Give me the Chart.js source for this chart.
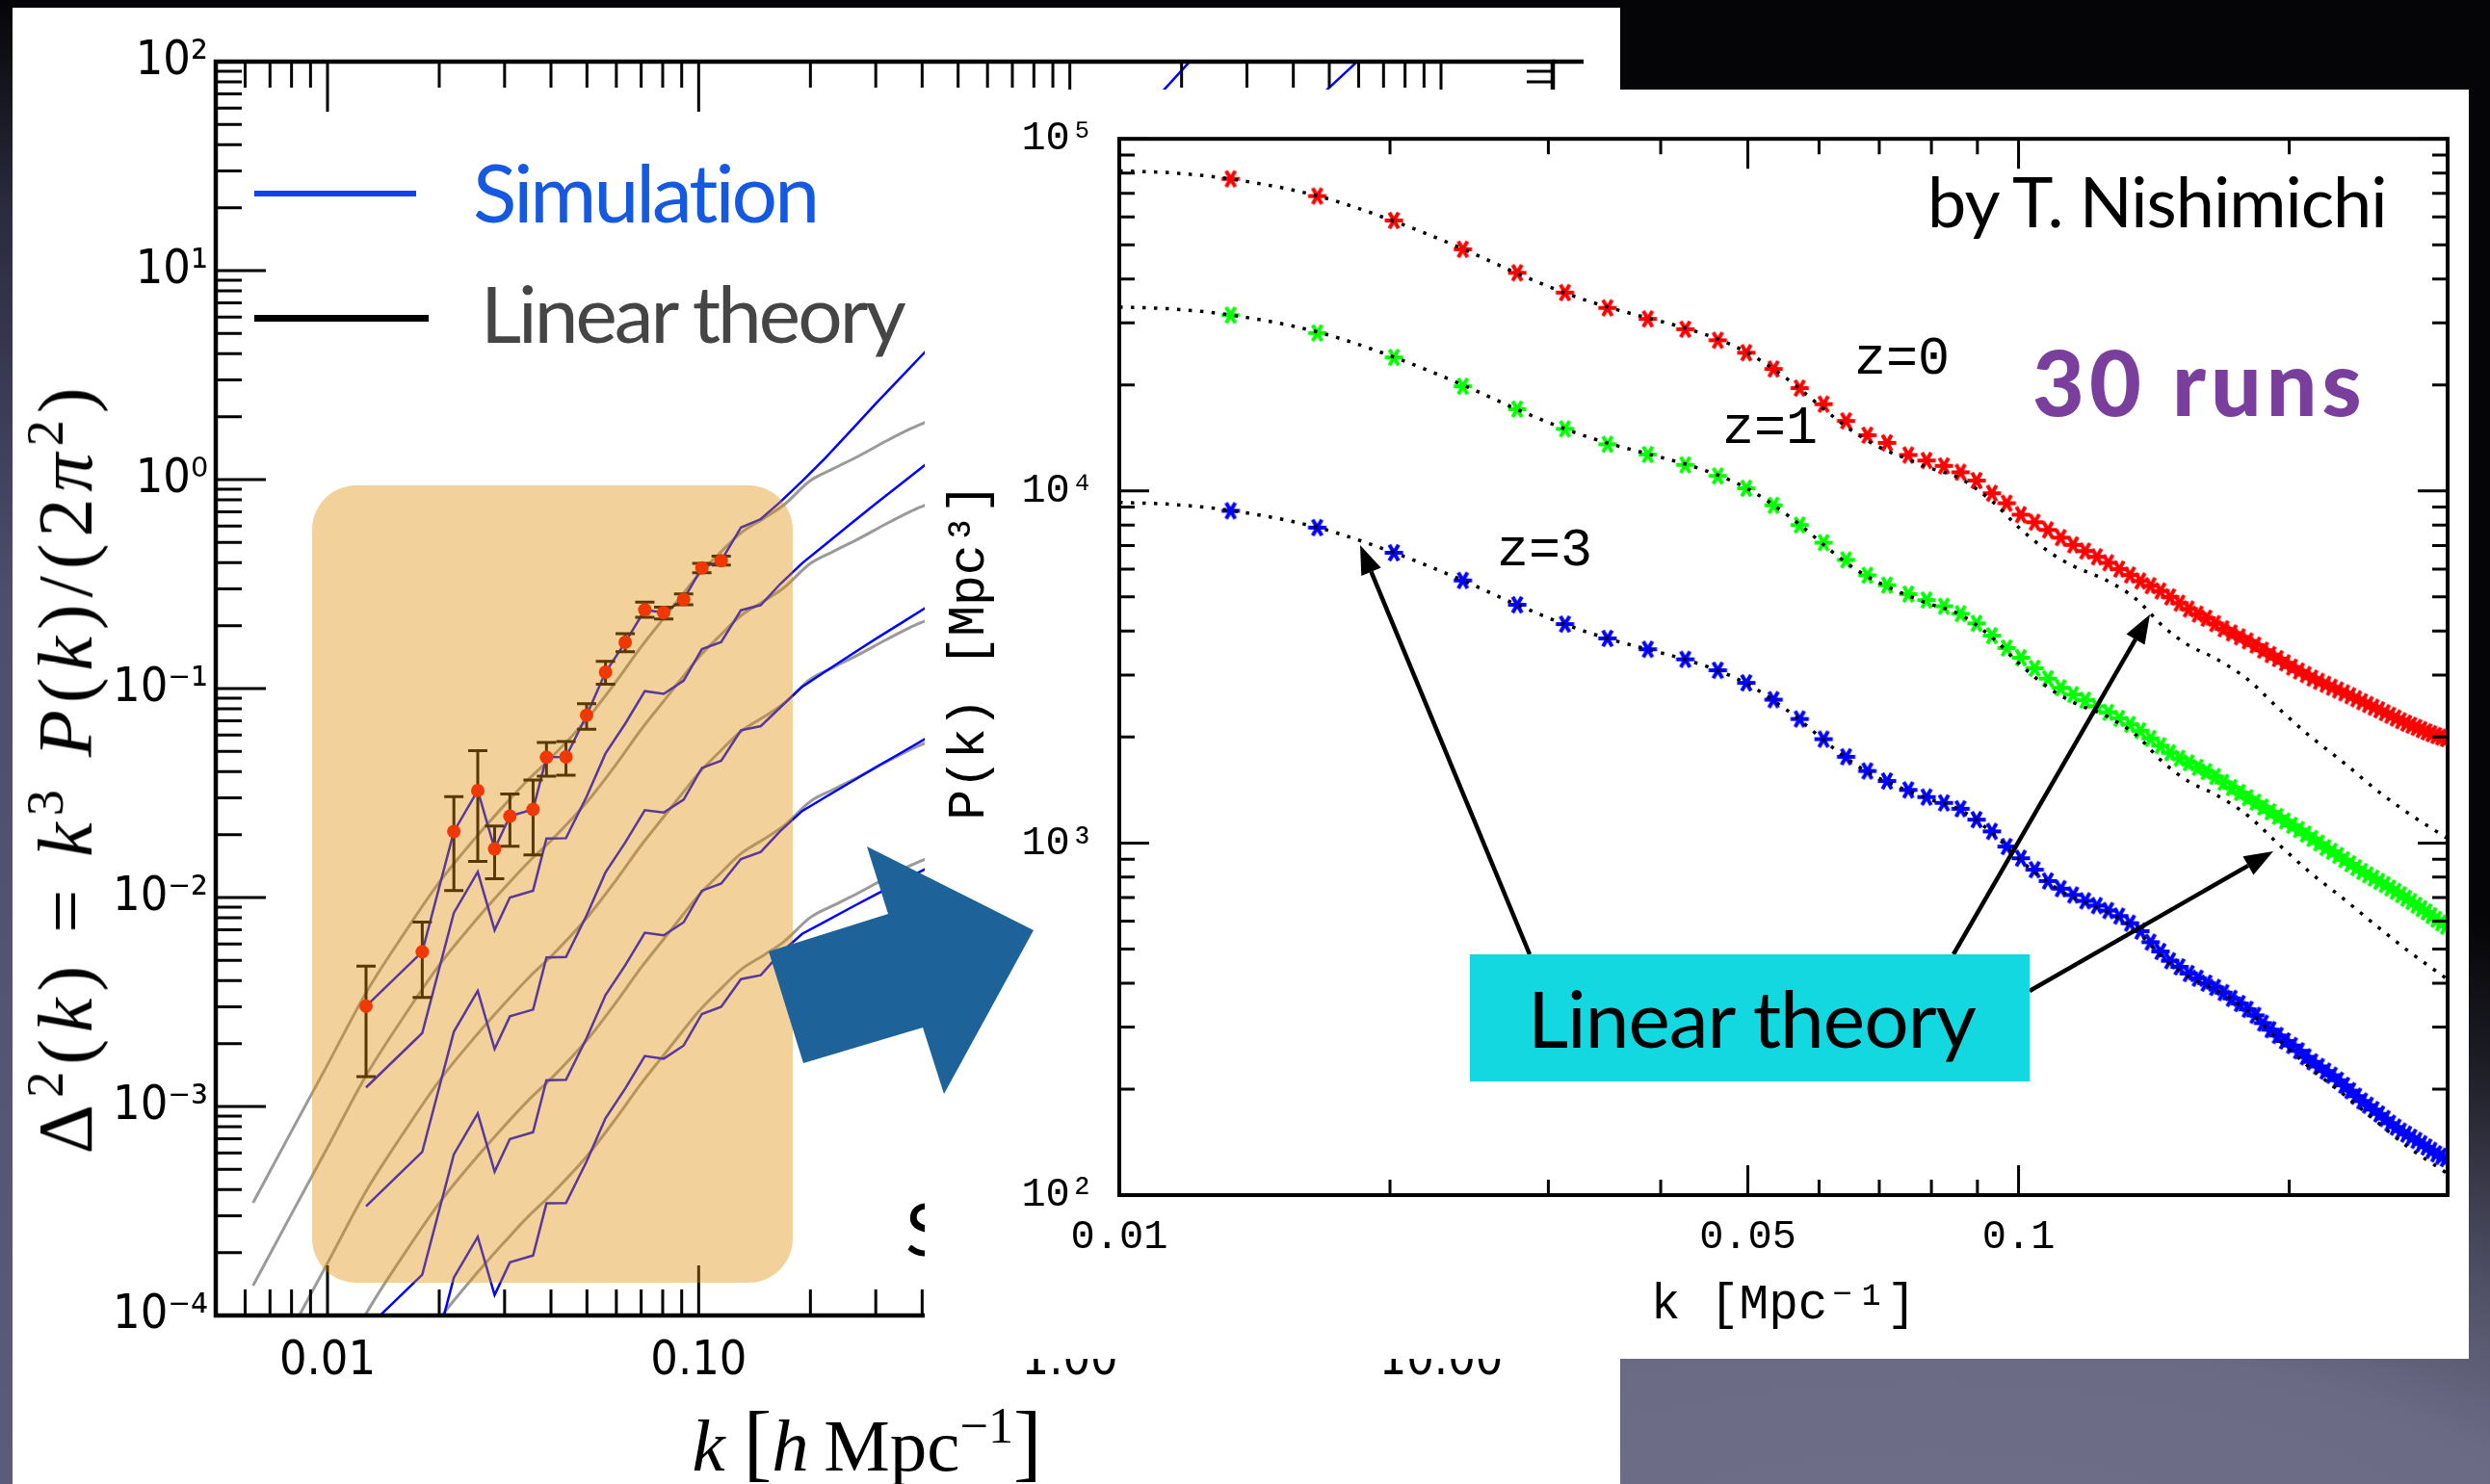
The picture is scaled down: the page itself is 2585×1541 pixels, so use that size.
<!DOCTYPE html>
<html>
<head>
<meta charset="utf-8">
<title>Power spectrum: simulation vs linear theory</title>
<script src="https://cdn.jsdelivr.net/npm/chart.js"></script>
<style>
  html, body { margin: 0; padding: 0; }
  body {
    width: 2585px; height: 1541px; overflow: hidden; position: relative;
    background: #000 radial-gradient(ellipse 1900px 760px at 2000px 1680px,
      #72718c 0%, #6b6a85 38%, #4a4a5f 58%, #1c1c25 82%, #050507 100%);
  }
  .abs { position: absolute; }
  .txt { position: absolute; white-space: nowrap; line-height: 1; }
  .gill { font-family: Lato, 'Open Sans', sans-serif; }
  .mono { font-family: 'Liberation Mono', 'DejaVu Sans Mono', monospace; }
  .math { font-family: 'Liberation Serif', 'DejaVu Serif', serif; }
  .math sup { font-size: 0.68em; vertical-align: 0.55em; line-height: 0; }
  #leftStrip  { left: 0; top: 0; width: 13px; height: 1541px;
                background: linear-gradient(#050508 0%, #2a2b3c 14%, #4c4e6c 40%, #5a5c7a 100%); }
  #leftPanel  { left: 13px; top: 8px; width: 1669px; height: 1533px; background: #fff; }
  #leftWrap   { left: 0; top: 0; width: 1700px; height: 1541px; }
  #orangeBox  { left: 324px; top: 504px; width: 499px; height: 828px; border-radius: 46px;
                background: rgba(222, 140, 5, 0.4); }
  #rightPanel { left: 960px; top: 93px; width: 1603px; height: 1318px; background: #fff; }
  #rightWrap  { left: 960px; top: 93px; width: 1603px; height: 1318px; }
  #overlay    { left: 0; top: 0; }
  #cyanBox    { left: 1526px; top: 991px; width: 581px; height: 132px; background: #13d8e0; }
</style>
</head>
<body>

<div id="leftStrip" class="abs"></div>
<div id="leftPanel" class="abs"></div>
<div id="leftWrap" class="abs"><canvas id="leftChart" width="1700" height="1541"></canvas></div>
<div id="orangeBox" class="abs"></div>

<!-- left legend -->
<div class="abs" style="left:264px; top:198px; width:168px; height:6px; background:#1440f0;"></div>
<div class="txt gill" style="left:491px; top:157px; font-size:84px; color:#1559e0; letter-spacing:-3px;">Simulation</div>
<div class="abs" style="left:264px; top:327px; width:181px; height:7px; background:#000;"></div>
<div class="txt gill" style="left:499px; top:283px; font-size:82px; color:#454545; letter-spacing:-3px;">Linear theory</div>

<!-- left axis titles -->
<div class="txt math" style="left:68px; top:797px; font-size:80px; letter-spacing:7px; transform:translate(-50%,-50%) rotate(-90deg);">
  &Delta;<sup>2</sup>(<i>k</i>)&nbsp;=&nbsp;<i>k</i><sup>3</sup>&nbsp;<i>P</i>(<i>k</i>)/(2<i>&pi;</i><sup>2</sup>)</div>
<div class="txt math" style="left:900px; top:1497px; font-size:77px; transform:translate(-50%,-50%);">
  <i>k</i>&nbsp;<span style="font-size:1.15em">[</span><i>h</i>&thinsp;Mpc<sup>&minus;1</sup><span style="font-size:1.15em">]</span></div>
<div class="txt gill" style="left:940px; top:1237px; font-size:76px; color:#000;">S</div>

<div id="rightPanel" class="abs"></div>
<div id="rightWrap" class="abs"><canvas id="rightChart" width="1603" height="1318"></canvas></div>

<svg id="overlay" class="abs" width="2585" height="1541" xmlns="http://www.w3.org/2000/svg">
  <polygon points="798,988 922,949 900,879 1073,966 980,1136 958,1067 834,1104" fill="#1d6399"/>
  <g id="arrows"></g>
</svg>

<div id="cyanBox" class="abs"></div>
<div class="txt gill" style="left:1586px; top:1015px; font-size:82px; color:#000; letter-spacing:-1px;">Linear theory</div>

<div class="txt gill" style="left:2001px; top:172px; font-size:72px; color:#000; letter-spacing:-1px;">by T. Nishimichi</div>
<div class="txt gill" style="left:2110px; top:350px; font-size:93px; font-weight:900; color:#7a3e9d; letter-spacing:5px;">30 runs</div>
<div class="txt mono" style="left:1925px; top:346px; font-size:55px; color:#000;">z=0</div>
<div class="txt mono" style="left:1788px; top:418px; font-size:55px; color:#000;">z=1</div>
<div class="txt mono" style="left:1554px; top:545px; font-size:55px; color:#000;">z=3</div>

<script>
// ===============================
// LEFT PANEL DATA  (Delta^2(k) vs k [h/Mpc])
// ===============================
const simK  = [0.0127, 0.0180, 0.0219, 0.0254, 0.0282, 0.0310, 0.0358, 0.0389, 0.0439, 0.0499, 0.0561,
               0.0634, 0.0716, 0.0805, 0.0911, 0.102, 0.115, 0.130, 0.147, 0.166, 0.19, 0.22, 0.26,
               0.30, 0.35, 0.42, 0.6, 1.0, 1.6, 2.5, 4.0, 6.5];
const simZ0 = [0.00302, 0.00550, 0.0207, 0.0325, 0.0171, 0.0245, 0.0264, 0.0469, 0.0471, 0.0745, 0.1197,
               0.1663, 0.238, 0.231, 0.267, 0.378, 0.409, 0.590, 0.647, 0.782, 0.982, 1.276, 1.754,
               2.307, 3.076, 4.325, 8.67, 23.5, 58.7, 140, 351, 891];
const simZ1 = [0.001233, 0.002246, 0.00845, 0.01327, 0.00698, 0.0100, 0.01078, 0.01915, 0.01923, 0.0304, 0.0489,
               0.0679, 0.0972, 0.0943, 0.1090, 0.1543, 0.1670, 0.237, 0.251, 0.317, 0.398, 0.491, 0.625,
               0.767, 0.951, 1.227, 2.218, 5.19, 11.32, 23.8, 51.9, 116];
const simZ2 = [0.000333, 0.000606, 0.00228, 0.00358, 0.001884, 0.0027, 0.00291, 0.00517, 0.00519, 0.00821, 0.01319,
               0.01833, 0.0262, 0.0255, 0.0294, 0.0417, 0.0451, 0.0631, 0.0661, 0.0813, 0.102, 0.121, 0.147,
               0.173, 0.205, 0.251, 0.371, 0.71, 1.32, 2.34, 4.17, 7.6];
const simZ3 = [0.0000861, 0.0001568, 0.00059, 0.000927, 0.000488, 0.000699, 0.000753, 0.001337, 0.001343, 0.002124, 0.003413,
               0.00474, 0.00679, 0.00659, 0.00761, 0.01078, 0.01166, 0.01528, 0.01652, 0.02084, 0.02594, 0.0303, 0.0361,
               0.0420, 0.0491, 0.0592, 0.0851, 0.158, 0.282, 0.479, 0.83, 1.48];
const simZ4 = [0.0000221, 0.0000403, 0.0001517, 0.000238, 0.0001253, 0.0001795, 0.0001935, 0.000344, 0.000345, 0.000546, 0.000877,
               0.001219, 0.001744, 0.001693, 0.001957, 0.00277, 0.0030, 0.00407, 0.00425, 0.00542, 0.0067, 0.0077, 0.00904,
               0.01033, 0.0119, 0.01406, 0.02, 0.0355, 0.060, 0.1, 0.166, 0.28];

const linK  = [0.0063, 0.008, 0.01, 0.0127, 0.016, 0.02, 0.025, 0.03, 0.035, 0.04, 0.05, 0.06, 0.07, 0.08,
               0.09, 0.10, 0.115, 0.13, 0.15, 0.17, 0.2, 0.23, 0.27, 0.32, 0.37, 0.42, 0.6, 1.0, 1.6, 2.5, 4.0, 6.5];
const linZ0 = [0.000346, 0.000762, 0.001585, 0.0035, 0.00664, 0.01183, 0.01923, 0.02773, 0.03715, 0.04656, 0.07129,
               0.1084, 0.1585, 0.2138, 0.2786, 0.3508, 0.4519, 0.5559, 0.6531, 0.7586, 0.9886, 1.125, 1.297,
               1.528, 1.742, 1.923, 2.606, 4.027, 5.998, 8.77, 13.18, 19.95];
const linZ1 = [0.000139, 0.000306, 0.000637, 0.001406, 0.002668, 0.004753, 0.007727, 0.01114, 0.01493, 0.01871, 0.02864,
               0.04355, 0.06369, 0.0859, 0.1119, 0.141, 0.1816, 0.2234, 0.2624, 0.3048, 0.3972, 0.452, 0.521,
               0.614, 0.700, 0.773, 1.047, 1.618, 2.41, 3.524, 5.296, 8.016];
const linZ2 = [0.0000388, 0.0000855, 0.000178, 0.000393, 0.000745, 0.001327, 0.002158, 0.003111, 0.004168, 0.005224, 0.008,
               0.01216, 0.01778, 0.02399, 0.03126, 0.03936, 0.0507, 0.06237, 0.07328, 0.08511, 0.1109, 0.1262, 0.1455,
               0.1714, 0.1955, 0.2158, 0.2924, 0.4518, 0.673, 0.984, 1.479, 2.238];
const linZ3 = [0.0000101, 0.0000222, 0.0000462, 0.000102, 0.000194, 0.000345, 0.000561, 0.000809, 0.001084, 0.001358, 0.00208,
               0.003162, 0.004623, 0.006237, 0.008127, 0.01023, 0.01318, 0.01622, 0.01905, 0.02213, 0.02884, 0.03282, 0.03783,
               0.04457, 0.05081, 0.0561, 0.07602, 0.1175, 0.175, 0.2558, 0.3845, 0.582];
const linZ4 = [0.00000281, 0.00000619, 0.0000129, 0.0000284, 0.000054, 0.0000962, 0.000156, 0.000225, 0.000302, 0.000378, 0.000579,
               0.000881, 0.001288, 0.001738, 0.002264, 0.002851, 0.003673, 0.004518, 0.005308, 0.006166, 0.008035, 0.009144, 0.01054,
               0.01242, 0.01416, 0.01563, 0.02118, 0.03273, 0.04875, 0.07128, 0.1071, 0.1622];

// measured points with error bars
const pointK     = [0.0127, 0.0180, 0.0219, 0.0254, 0.0282, 0.0310, 0.0358, 0.0389, 0.0439, 0.0499, 0.0561,
                    0.0634, 0.0716, 0.0805, 0.0911, 0.102, 0.115];
const pointDelta = [0.00302, 0.00550, 0.0207, 0.0325, 0.0171, 0.0245, 0.0264, 0.0469, 0.0471, 0.0745, 0.1197,
                    0.1663, 0.238, 0.231, 0.267, 0.378, 0.409];
const pointErrLo = [0.00139, 0.00333, 0.0108, 0.0149, 0.0123, 0.0176, 0.0160, 0.0381, 0.0385, 0.0639, 0.105,
                    0.150, 0.219, 0.215, 0.252, 0.358, 0.390];
const pointErrHi = [0.00469, 0.00762, 0.0304, 0.0504, 0.0220, 0.0313, 0.0365, 0.0552, 0.0558, 0.0846, 0.135,
                    0.183, 0.259, 0.245, 0.284, 0.397, 0.430];

const leftXTicks  = [0.01, 0.1, 1, 10];
const leftXLabels = ['0.01', '0.10', '1.00', '10.00'];
const leftYTicks  = [1e-4, 1e-3, 1e-2, 1e-1, 1, 10, 100];
const leftYLabels = ['10\u207B\u2074', '10\u207B\u00B3', '10\u207B\u00B2', '10\u207B\u00B9', '10\u2070', '10\u00B9', '10\u00B2'];

// ===============================
// RIGHT PANEL DATA  (P(k) vs k [1/Mpc], 30 runs)
// ===============================
const binK = [0.0133, 0.0166, 0.0202, 0.0241, 0.0277, 0.0313, 0.0349, 0.0387, 0.0426, 0.0463, 0.0498, 0.0534,
              0.0571, 0.0607, 0.0643, 0.0679, 0.0714, 0.0754, 0.0790, 0.0826, 0.0862, 0.0898, 0.0934, 0.0970,
              0.1006, 0.1042, 0.1078, 0.1114, 0.1150, 0.1186, 0.1222, 0.1258, 0.1294, 0.1330, 0.1366, 0.1402,
              0.1438, 0.1474, 0.1510, 0.1546, 0.1582, 0.1618, 0.1654, 0.1690, 0.1726, 0.1762, 0.1798, 0.1834,
              0.1870, 0.1906, 0.1942, 0.1978, 0.2014, 0.2050, 0.2086, 0.2122, 0.2158, 0.2194, 0.2230, 0.2266,
              0.2302, 0.2338, 0.2374, 0.2410, 0.2446, 0.2482, 0.2518, 0.2554, 0.2590, 0.2626, 0.2662, 0.2698,
              0.2734, 0.2770, 0.2806, 0.2842, 0.2878, 0.2914, 0.2950, 0.2986];
const pZ0 = [77000, 68800, 58650, 48570, 41640, 36590, 33110, 30810, 28800, 26790, 24690, 22200,
             19590, 17640, 15810, 14400, 13700, 12650, 12200, 11780, 11300, 10700, 9850, 9230,
             8560, 8150, 7750, 7370, 7030, 6750, 6500, 6250, 6000, 5770, 5550, 5380,
             5200, 5000, 4800, 4620, 4470, 4350, 4200, 4060, 3950, 3850, 3750, 3650,
             3530, 3430, 3340, 3250, 3160, 3080, 3010, 2940, 2880, 2825, 2770, 2720,
             2670, 2620, 2570, 2520, 2475, 2430, 2390, 2345, 2305, 2265, 2225, 2190,
             2160, 2130, 2100, 2070, 2045, 2020, 2000, 1980];
const pZ1 = [31580, 28090, 23950, 19830, 17080, 15010, 13570, 12690, 11860, 11030, 10170, 9104,
             8000, 7130, 6370, 5760, 5400, 5094, 4900, 4705, 4480, 4205, 3880, 3580,
             3360, 3135, 2930, 2760, 2640, 2545, 2447, 2350, 2260, 2172, 2085, 1982,
             1890, 1805, 1740, 1690, 1640, 1595, 1545, 1487, 1437, 1391, 1345, 1306,
             1265, 1226, 1190, 1155, 1122, 1092, 1060, 1030, 1000, 970, 947, 922,
             897, 873, 851, 830, 812, 795, 778, 762, 745, 729, 713, 697,
             682, 666, 651, 637, 622, 607, 593, 580];
const pZ3 = [8784, 7870, 6675, 5569, 4750, 4185, 3813, 3551, 3324, 3095, 2850, 2554,
             2251, 1973, 1758, 1602, 1500, 1415, 1351, 1300, 1251, 1165, 1079, 977,
             905, 840, 780, 742, 712, 685, 664, 643, 620, 592, 562, 523,
             492, 463, 445, 426, 413, 400, 389, 376, 362, 350, 337, 324,
             308, 295, 284, 274, 266, 257, 247, 239, 232, 225, 219, 212,
             205, 198, 191, 185, 180, 175, 170, 165, 160, 156, 152, 149,
             146, 143, 140, 137, 134, 131, 129, 127];

const theoryK  = [0.01, 0.0115, 0.0133, 0.0166, 0.0202, 0.0241, 0.0277, 0.0313, 0.0349, 0.0387, 0.0426, 0.0463,
                  0.0498, 0.0534, 0.0571, 0.0607, 0.0643, 0.0679, 0.0714, 0.0754, 0.0790, 0.0862, 0.0934, 0.1006,
                  0.108, 0.115, 0.125, 0.135, 0.145, 0.155, 0.165, 0.18, 0.195, 0.21, 0.23, 0.25, 0.27, 0.30];
const theoryZ0 = [81100, 80000, 76900, 68900, 58400, 48700, 41500, 36500, 33300, 31000, 29000, 27000,
                  24800, 22200, 19500, 17100, 15250, 13900, 13000, 12300, 11700, 10840, 9350, 7780,
                  6730, 6120, 5590, 4940, 4110, 3630, 3360, 2910, 2400, 2030, 1690, 1415, 1225, 1030];
const theoryZ1 = [33300, 32850, 31600, 28300, 24000, 20000, 17050, 15000, 13680, 12740, 11920, 11090,
                  10200, 9120, 8020, 7040, 6260, 5710, 5350, 5040, 4810, 4450, 3840, 3200,
                  2760, 2510, 2300, 2030, 1690, 1490, 1380, 1195, 987, 833, 693, 582, 498, 410];
const theoryZ3 = [9282, 9150, 8800, 7880, 6680, 5570, 4750, 4180, 3810, 3550, 3320, 3090,
                  2840, 2540, 2235, 1960, 1745, 1590, 1490, 1405, 1340, 1240, 1070, 890,
                  770, 700, 640, 565, 470, 415, 385, 333, 275, 232, 193, 162, 138, 115];

const rightXTicks  = [0.01, 0.05, 0.1];
const rightXLabels = ['0.01', '0.05', '0.1'];
const rightYTicks  = [100, 1000, 10000, 100000];
const rightYLabels = ['10\u00B2', '10\u00B3', '10\u2074', '10\u2075'];

// ===============================
// HELPERS
// ===============================
const NARROW = "'Liberation Sans Narrow', 'DejaVu Sans Condensed', 'Liberation Sans', sans-serif";
const MONO = "'Liberation Mono', 'DejaVu Sans Mono', monospace";
const pts = (xs, ys) => xs.map((x, i) => ({ x, y: ys[i] }));

function logTickList(min, max, majors) {
    const out = [];
    for (let e = Math.floor(Math.log10(min)); e <= Math.ceil(Math.log10(max)); e++) {
        for (let m = 1; m < 10; m++) {
            const v = +(m * Math.pow(10, e)).toPrecision(6);
            if (v >= min * 0.999 && v <= max * 1.001) {
                out.push({ v, major: majors ? majors.includes(v) : m === 1 });
            }
        }
    }
    return out;
}

// inward ticks on all four sides + frame
function drawFrame(chart, o) {
    const { ctx, chartArea: a, scales: { x, y } } = chart;
    ctx.save();
    ctx.strokeStyle = '#000';
    ctx.lineWidth = o.tickWidth;
    ctx.beginPath();
    for (const t of logTickList(x.min, x.max, o.xMajors)) {
        const px = x.getPixelForValue(t.v);
        const len = t.major ? o.major : o.minor;
        ctx.moveTo(px, a.bottom); ctx.lineTo(px, a.bottom - len);
        ctx.moveTo(px, a.top); ctx.lineTo(px, a.top + len);
    }
    for (const t of logTickList(y.min, y.max)) {
        const py = y.getPixelForValue(t.v);
        const len = t.major ? o.major : o.minor;
        ctx.moveTo(a.left, py); ctx.lineTo(a.left + len, py);
        ctx.moveTo(a.right, py); ctx.lineTo(a.right - len, py);
    }
    ctx.stroke();
    ctx.lineWidth = o.frameWidth;
    ctx.strokeRect(a.left, a.top, a.right - a.left, a.bottom - a.top);
    if (o.topExtra) {
        ctx.beginPath(); ctx.moveTo(a.right, a.top); ctx.lineTo(a.right + o.topExtra, a.top); ctx.stroke();
    }
    ctx.restore();
}

// asterisk marker
function asterisk(color) {
    const c = document.createElement('canvas');
    c.width = 26; c.height = 26;
    const g = c.getContext('2d');
    g.strokeStyle = color; g.lineWidth = 4; g.lineCap = 'butt';
    g.translate(13, 13);
    for (const ang of [0, Math.PI / 3, 2 * Math.PI / 3]) {
        g.beginPath();
        g.moveTo(-9.5 * Math.cos(ang), -9.5 * Math.sin(ang));
        g.lineTo(9.5 * Math.cos(ang), 9.5 * Math.sin(ang));
        g.stroke();
    }
    return c;
}

// ===============================
// LEFT CHART
// ===============================
const leftDecor = {
    id: 'leftDecor',
    beforeDatasetDraw(chart, args) {
        if (args.index !== 0) return;
        const { ctx, scales: { x, y } } = chart;
        ctx.save();
        ctx.strokeStyle = '#000';
        ctx.lineWidth = 3;
        ctx.beginPath();
        pointK.forEach((k, i) => {
            const px = x.getPixelForValue(k);
            const lo = y.getPixelForValue(pointErrLo[i]);
            const hi = y.getPixelForValue(pointErrHi[i]);
            ctx.moveTo(px, lo); ctx.lineTo(px, hi);
            ctx.moveTo(px - 10, lo); ctx.lineTo(px + 10, lo);
            ctx.moveTo(px - 10, hi); ctx.lineTo(px + 10, hi);
        });
        ctx.stroke();
        ctx.restore();
    },
    afterDatasetsDraw(chart) {
        drawFrame(chart, { tickWidth: 3, major: 52, minor: 27, frameWidth: 4.5, topExtra: 32 });
    }
};

const simLine = d => ({ data: pts(simK, d), borderColor: '#0000ff', borderWidth: 2.5, pointRadius: 0, tension: 0 });
const linLine = d => ({ data: pts(linK, d), borderColor: '#9a9a9a', borderWidth: 3, pointRadius: 0,
                        cubicInterpolationMode: 'monotone' });

new Chart(document.getElementById('leftChart'), {
    type: 'line',
    data: {
        datasets: [
            { data: pts(pointK, pointDelta), showLine: false, pointRadius: 7, pointHoverRadius: 7,
              pointBackgroundColor: '#ff0000', pointBorderWidth: 0 },
            ...[simZ0, simZ1, simZ2, simZ3, simZ4].map(simLine),
            ...[linZ0, linZ1, linZ2, linZ3, linZ4].map(linLine)
        ]
    },
    options: {
        responsive: false,
        animation: false,
        events: [],
        layout: { padding: { top: 64, right: 88, left: 0, bottom: 0 } },
        plugins: { legend: { display: false }, tooltip: { enabled: false } },
        scales: {
            x: {
                type: 'logarithmic', min: 0.005, max: 20,
                grid: { display: false, drawTicks: false }, border: { display: false },
                afterBuildTicks: s => { s.ticks = leftXTicks.map(v => ({ value: v })); },
                afterFit: s => { s.height = 175; },
                ticks: { autoSkip: false, maxRotation: 0, padding: 18, color: '#000',
                         font: { family: NARROW, size: 50 }, callback: (v, i) => leftXLabels[i] }
            },
            y: {
                type: 'logarithmic', min: 1e-4, max: 100,
                grid: { display: false, drawTicks: false }, border: { display: false },
                afterBuildTicks: s => { s.ticks = leftYTicks.map(v => ({ value: v })); },
                afterFit: s => { s.width = 224; },
                ticks: { autoSkip: false, padding: 8, color: '#000',
                         font: { family: NARROW, size: 50 }, callback: (v, i) => leftYLabels[i] }
            }
        }
    },
    plugins: [leftDecor]
});

// ===============================
// RIGHT CHART
// ===============================
const rightDecor = {
    id: 'rightDecor',
    afterDatasetsDraw(chart) {
        drawFrame(chart, { tickWidth: 3, major: 31, minor: 16, frameWidth: 4, xMajors: rightXTicks });
    }
};

const theoryLine = d => ({ data: pts(theoryK, d), borderColor: '#000', borderWidth: 3.5, borderDash: [3.5, 8.5],
                           pointRadius: 0, cubicInterpolationMode: 'monotone' });
const simMarks = (d, col) => ({ data: pts(binK, d), showLine: false, pointRadius: 10,
                                pointStyle: asterisk(col), borderColor: col, backgroundColor: col });

new Chart(document.getElementById('rightChart'), {
    type: 'line',
    data: {
        datasets: [
            theoryLine(theoryZ0), theoryLine(theoryZ1), theoryLine(theoryZ3),
            simMarks(pZ0, '#ff0000'), simMarks(pZ1, '#00ff00'), simMarks(pZ3, '#0000ff')
        ]
    },
    options: {
        responsive: false,
        animation: false,
        events: [],
        layout: { padding: { top: 24.5, right: 22, left: 0, bottom: 0 } },
        plugins: { legend: { display: false }, tooltip: { enabled: false } },
        scales: {
            x: {
                type: 'logarithmic', min: 0.01, max: 0.3,
                grid: { display: false, drawTicks: false }, border: { display: false },
                afterBuildTicks: s => { s.ticks = rightXTicks.map(v => ({ value: v })); },
                afterFit: s => { s.height = 170; },
                ticks: { autoSkip: false, maxRotation: 0, padding: 19, color: '#000',
                         font: { family: MONO, size: 42 }, callback: (v, i) => rightXLabels[i] },
                title: { display: true, text: 'k [Mpc\u207B\u00B9]', color: '#000',
                         font: { family: MONO, size: 51 }, padding: { top: 0, bottom: 25 } }
            },
            y: {
                type: 'logarithmic', min: 100, max: 100000,
                grid: { display: false, drawTicks: false }, border: { display: false },
                afterBuildTicks: s => { s.ticks = rightYTicks.map(v => ({ value: v })); },
                afterFit: s => { s.width = 202; },
                ticks: { autoSkip: false, padding: 26, color: '#000',
                         font: { family: MONO, size: 42 }, callback: (v, i) => rightYLabels[i] },
                title: { display: true, text: '\u00A0P(k) [Mpc\u00B3]', color: '#000',
                         font: { family: MONO, size: 53 }, padding: { top: 15, bottom: 0 } }
            }
        }
    },
    plugins: [rightDecor]
});

// ===============================
// ANNOTATION ARROWS
// ===============================
function arrow(x1, y1, x2, y2) {
    const dx = x2 - x1, dy = y2 - y1, L = Math.hypot(dx, dy), ux = dx / L, uy = dy / L;
    const hl = 30, hw = 11;
    const bx = x2 - ux * hl, by = y2 - uy * hl;
    return `<line x1="${x1}" y1="${y1}" x2="${bx}" y2="${by}" stroke="#000" stroke-width="4.5"/>` +
           `<polygon points="${x2},${y2} ${bx - uy * hw},${by + ux * hw} ${bx + uy * hw},${by - ux * hw}" fill="#000"/>`;
}
document.getElementById('arrows').innerHTML =
    arrow(1588, 991, 1412, 566) + arrow(2028, 991, 2232, 638) + arrow(2107, 1029, 2360, 884);
</script>
</body>
</html>
